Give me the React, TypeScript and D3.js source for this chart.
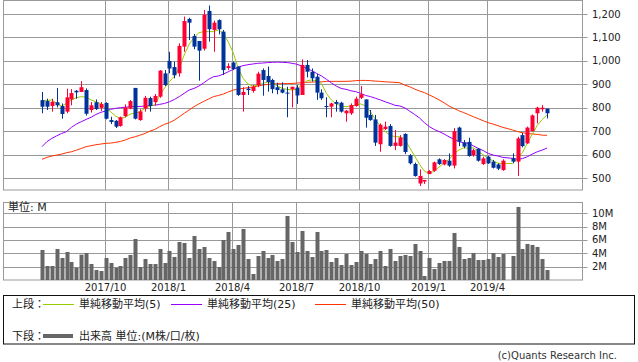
import { useEffect, useRef } from "react";
import * as d3 from "d3";

// weekly candles, first week starts on this Monday
const firstWeek = "2017-07-03";

const open = [
  833, 829, 808, 824, 808, 784, 836, 873, 868, 876,
  791, 824, 800, 821, 748, 745, 723, 765, 797, 885,
  748, 797, 842, 825, 848, 947, 1000, 974, 947, 1061,
  1179, 1106, 1085, 1052, 1213, 1132, 1174, 1125, 970, 993,
  976, 855, 882, 872, 896, 961, 936, 919, 888, 879,
  865, 879, 886, 855, 983, 954, 933, 865, 808, 805,
  825, 822, 777, 777, 808, 843, 836, 770, 751, 645,
  710, 723, 638, 638, 689, 598, 561, 478, 486, 518,
  532, 581, 559, 575, 554, 716, 652, 655, 598, 626,
  561, 592, 571, 559, 535, null, 585, 571, 684, 649,
  701, 777, 794, 797,
];
const high = [
  868, 839, 839, 885, 819, 882, 880, 876, 914, 883,
  825, 836, 825, 824, 762, 748, 763, 815, 833, 885,
  794, 851, 848, 859, 961, 961, 1039, 997, 1075, 1189,
  1184, 1115, 1085, 1217, 1236, 1172, 1177, 1132, 990, 997,
  976, 888, 893, 897, 954, 968, 976, 924, 907, 909,
  890, 890, 897, 1007, 1004, 968, 944, 879, 845, 822,
  834, 826, 791, 819, 848, 893, 836, 791, 770, 734,
  741, 731, 706, 684, 692, 603, 567, 538, 493, 535,
  571, 585, 582, 606, 714, 720, 663, 673, 626, 629,
  592, 596, 578, 564, 581, null, 606, 677, 694, 720,
  772, 805, 812, 797,
];
const low = [
  777, 791, 784, 802, 754, 777, 811, 839, 868, 767,
  780, 791, 787, 751, 731, 714, 720, 760, 794, 751,
  745, 784, 784, 811, 843, 893, 947, 926, 933, 1039,
  1089, 1050, 916, 1044, 1082, 1039, 1113, 940, 961, 961,
  851, 784, 855, 865, 888, 852, 869, 862, 858, 862,
  760, 802, 817, 855, 930, 912, 834, 834, 760, 760,
  784, 780, 741, 770, 805, 838, 716, 745, 638, 613,
  706, 635, 620, 635, 603, 559, 507, 467, 476, 518,
  528, 557, 555, 549, 542, 637, 628, 592, 592, 571,
  557, 561, 542, 535, 532, null, 564, 510, 632, 646,
  699, 734, 784, 755,
];
const close = [
  805, 805, 826, 811, 774, 845, 863, 866, 888, 775,
  811, 795, 817, 754, 740, 720, 760, 802, 829, 754,
  785, 843, 808, 851, 959, 897, 968, 939, 1064, 1170,
  1163, 1061, 1044, 1197, 1135, 1163, 1135, 961, 978, 966,
  855, 868, 876, 890, 946, 919, 910, 880, 876, 865,
  861, 890, 853, 983, 954, 926, 865, 841, 804, 819,
  817, 784, 788, 812, 839, 858, 758, 748, 652, 728,
  720, 638, 652, 674, 612, 564, 510, 510, 493, 531,
  568, 561, 578, 554, 701, 656, 635, 595, 620, 575,
  585, 564, 545, 541, 575, null, 571, 670, 637, 716,
  768, 801, 801, 777,
];
// volume in millions
const volume = [
  4.5, 2.1, 2.1, 4.65, 3.3, 4.2, 2.7, 1.85, 3.8, 4.05,
  2.4, 1.5, 1.35, 3.3, 2.55, 1.85, 2.1, 3.3, 3.75, 6.15,
  1.95, 3.15, 2.4, 2.4, 4.65, 2.55, 4.35, 3.45, 5.7, 5.55,
  3.3, 6.6, 4.65, 4.95, 3.3, 2.85, 1.95, 6.0, 7.2, 4.65,
  5.25, 7.65, 3.15, 0.9, 3.6, 4.35, 3.3, 3.75, 2.85, 3.15,
  9.6, 5.7, 4.2, 7.35, 4.35, 3.45, 7.2, 4.35, 4.5, 2.7,
  3.3, 2.25, 3.9, 2.25, 2.7, 4.35, 3.9, 2.4, 3.15, 4.35,
  2.1, 4.65, 2.85, 3.6, 3.75, 3.6, 5.4, 4.35, 0.6, 3.3,
  1.65, 2.55, 2.85, 2.85, 7.05, 4.95, 3.15, 3.3, 4.05, 3.0,
  3.0, 3.15, 4.05, 3.45, 3.9, null, 3.6, 10.95, 4.65, 5.4,
  5.25, 4.95, 3.15, 1.5,
];
const ma5 = [
  831, 831, 834, 819, 808, 819, 834, 843, 848, 845,
  834, 826, 817, 798, 784, 765, 755, 760, 774, 777,
  784, 798, 808, 812, 852, 885, 912, 935, 970, 1025,
  1070, 1100, 1120, 1125, 1125, 1125, 1132, 1118, 1080, 1035,
  970, 926, 902, 893, 897, 904, 910, 907, 893, 883,
  879, 876, 879, 900, 915, 919, 916, 904, 862, 834,
  817, 808, 805, 808, 812, 817, 808, 784, 751, 723,
  699, 684, 677, 677, 665, 630, 595, 560, 530, 522,
  530, 548, 565, 580, 605, 620, 630, 628, 630, 615,
  600, 585, 574, 564, 563, null, 563, 585, 610, 650,
  688, 725, 750, 770,
];
const ma25 = [
  635, 656, 670, 681, 691, 699, 717, 731, 741, 751,
  760, 772, 781, 787, 794, 798, 801, 803, 805, 806,
  806, 808, 809, 811, 815, 819, 826, 836, 848, 862,
  876, 883, 893, 907, 922, 933, 936, 944, 954, 964,
  973, 980, 984, 987, 990, 991, 993, 994, 995, 994,
  993, 990, 986, 978, 968, 959, 947, 936, 922, 907,
  893, 883, 879, 873, 869, 862, 853, 848, 841, 834,
  826, 819, 811, 808, 800, 786, 772, 757, 737, 720,
  708, 699, 689, 677, 666, 656, 652, 649, 638, 627,
  618, 606, 599, 595, 589, null, 585, 581, 584, 592,
  603, 613, 620, 629,
];
const ma50 = [
  581, 589, 595, 599, 603, 609, 613, 620, 627, 635,
  639, 643, 646, 649, 650, 653, 657, 663, 672, 677,
  684, 691, 701, 708, 720, 730, 737, 748, 762, 777,
  791, 805, 817, 828, 838, 848, 853, 859, 868, 876,
  880, 883, 886, 889, 893, 897, 900, 902, 903, 903,
  904, 904, 906, 907, 909, 910, 911, 911, 913, 913,
  913, 913, 913, 914, 916, 917, 917, 916, 914, 913,
  911, 910, 909, 907, 897, 890, 880, 872, 865, 855,
  845, 834, 822, 808, 798, 788, 780, 771, 762, 754,
  745, 737, 731, 724, 717, null, 706, 699, 694, 691,
  689, 687, 684, 683,
];

const priceTicks = [500, 600, 700, 800, 900, 1000, 1100, 1200];
const volumeTicks = [2, 4, 6, 8, 10];
const monthLabels = ["2017/10", "2018/1", "2018/4", "2018/7", "2018/10", "2019/1", "2019/4"];

const legendItems = [
  { label: "単純移動平均(5)", color: "#99cc00" },
  { label: "単純移動平均(25)", color: "#9900ff" },
  { label: "単純移動平均(50)", color: "#ff3300" },
];

export default function App() {
  const svgRef = useRef(null);

  useEffect(() => {
    const width = 638;
    const height = 362;
    const left = 3.5;
    const right = 582.5;
    const up = "#ff0033";
    const down = "#003399";
    const grid = "#999999";
    const font = "'DejaVu Sans', 'Noto Sans CJK JP', sans-serif";

    const svg = d3.select(svgRef.current).attr("width", width).attr("height", height);
    svg.selectAll("*").remove();

    const x = d3.scaleLinear().domain([0, open.length - 1]).range([42, 547]);
    const y = d3.scaleLinear().domain([500, 1200]).range([178.3, 14]);
    const yv = d3.scaleLinear().domain([0, 10]).range([280, 213.3]);

    const start = d3.timeParse("%Y-%m-%d")(firstWeek);
    const weeks = d3.range(open.length).map((i) => d3.timeMonday.offset(start, i));
    const monthIdx = monthLabels.map((m) => {
      const [yy, mm] = m.split("/").map(Number);
      const first = new Date(yy, mm - 1, 1);
      return weeks.findIndex((w) => w >= first);
    });
    const gx = (i) => Math.round(x(i - 0.25)) + 0.5;
    const cx = (i) => Math.round(x(i)) + 0.5;

    // ---- price panel ----
    const top = svg.append("g");
    top.append("rect")
      .attr("x", left).attr("y", 0.5).attr("width", right - left).attr("height", 189.5)
      .attr("fill", "white").attr("stroke", grid);

    top.selectAll(".hgrid").data(priceTicks).enter().append("line")
      .attr("x1", left).attr("x2", right + 5)
      .attr("y1", (d) => Math.round(y(d)) + 0.5).attr("y2", (d) => Math.round(y(d)) + 0.5)
      .attr("stroke", grid);

    top.selectAll(".vgrid").data(monthIdx).enter().append("line")
      .attr("x1", gx).attr("x2", gx).attr("y1", 0.5).attr("y2", 190)
      .attr("stroke", grid);

    top.selectAll(".plabel").data(priceTicks).enter().append("text")
      .attr("x", 592).attr("y", (d) => y(d)).attr("dy", "0.35em")
      .style("font-family", font).style("font-size", "10px").attr("fill", "#222")
      .text((d) => d3.format(",")(d));

    const lineGen = d3.line().x((d) => x(d[0])).y((d) => y(d[1]));
    [
      { data: ma50, color: "#ff3300" },
      { data: ma25, color: "#9900ff" },
      { data: ma5, color: "#99cc00" },
    ].forEach((s) => {
      const pts = s.data.map((v, i) => [i, v]).filter((d) => d[1] != null);
      top.append("path").attr("d", lineGen(pts))
        .attr("fill", "none").attr("stroke", s.color).attr("stroke-width", 1);
    });

    const candles = d3.range(open.length).filter((i) => open[i] != null);
    const cg = top.selectAll(".candle").data(candles).enter().append("g");
    cg.append("line")
      .attr("x1", cx).attr("x2", cx)
      .attr("y1", (i) => y(high[i])).attr("y2", (i) => y(low[i]))
      .attr("stroke", (i) => (close[i] >= open[i] ? up : down));
    cg.append("rect")
      .attr("x", (i) => Math.round(x(i)) - 1.5)
      .attr("width", 4)
      .attr("y", (i) => y(Math.max(open[i], close[i])))
      .attr("height", (i) => Math.max(1, Math.abs(y(open[i]) - y(close[i]))))
      .attr("fill", (i) => (close[i] >= open[i] ? up : down));

    // ---- volume panel ----
    const vol = svg.append("g");
    vol.append("rect")
      .attr("x", left).attr("y", 202.5).attr("width", right - left).attr("height", 77.5)
      .attr("fill", "white").attr("stroke", grid);
    vol.selectAll(".vh").data(volumeTicks).enter().append("line")
      .attr("x1", left).attr("x2", right + 5)
      .attr("y1", (d) => Math.round(yv(d)) + 0.5).attr("y2", (d) => Math.round(yv(d)) + 0.5)
      .attr("stroke", grid);
    vol.selectAll(".vv").data(monthIdx).enter().append("line")
      .attr("x1", gx).attr("x2", gx).attr("y1", 202.5).attr("y2", 280)
      .attr("stroke", grid);
    vol.selectAll(".vlabel").data(volumeTicks).enter().append("text")
      .attr("x", 592).attr("y", (d) => yv(d)).attr("dy", "0.35em")
      .style("font-family", font).style("font-size", "10px").attr("fill", "#222")
      .text((d) => `${d}M`);
    vol.selectAll(".bar").data(candles).enter().append("rect")
      .attr("x", (i) => Math.round(x(i)) - 1.5).attr("width", 4)
      .attr("y", (i) => yv(volume[i])).attr("height", (i) => yv(0) - yv(volume[i]))
      .attr("fill", "#666666");
    vol.append("text")
      .attr("x", 8).attr("y", 207).attr("dy", "0.35em")
      .style("font-family", font).style("font-size", "11px").attr("fill", "#222")
      .text("単位: M");

    svg.selectAll(".mlabel").data(monthLabels).enter().append("text")
      .attr("x", (d, k) => gx(monthIdx[k])).attr("y", 287).attr("dy", "0.35em")
      .attr("text-anchor", "middle")
      .style("font-family", font).style("font-size", "10px").attr("fill", "#222")
      .text((d) => d);

    // ---- legend ----
    const lg = svg.append("g");
    lg.append("rect").attr("x", left).attr("y", 295.5).attr("width", 631).attr("height", 48.5)
      .attr("fill", "white").attr("stroke", "#111");
    lg.append("text").attr("x", 12).attr("y", 304).attr("dy", "0.35em")
      .style("font-family", font).style("font-size", "11px").attr("fill", "#222").text("上段：");
    const itemX = [43, 171, 315];
    legendItems.forEach((it, k) => {
      lg.append("line").attr("x1", itemX[k]).attr("x2", itemX[k] + 31)
        .attr("y1", 304.5).attr("y2", 304.5).attr("stroke", it.color);
      lg.append("text").attr("x", itemX[k] + 36).attr("y", 304).attr("dy", "0.35em")
        .style("font-family", font).style("font-size", "11px").attr("fill", "#222").text(it.label);
    });
    lg.append("text").attr("x", 12).attr("y", 336).attr("dy", "0.35em")
      .style("font-family", font).style("font-size", "11px").attr("fill", "#222").text("下段：");
    lg.append("line").attr("x1", 43).attr("x2", 73).attr("y1", 336).attr("y2", 336)
      .attr("stroke", "#666").attr("stroke-width", 4);
    lg.append("text").attr("x", 79).attr("y", 336).attr("dy", "0.35em")
      .style("font-family", font).style("font-size", "11px").attr("fill", "#222")
      .text("出来高 単位:(M株/口/枚)");

    svg.append("text").attr("x", 617).attr("y", 355.5).attr("dy", "0.35em")
      .attr("text-anchor", "end")
      .style("font-family", font).style("font-size", "10px").attr("fill", "#333")
      .text("(c)Quants Research Inc.");
  }, []);

  return <svg ref={svgRef} style={{ position: "absolute", left: 0, top: 0 }}></svg>;
}
